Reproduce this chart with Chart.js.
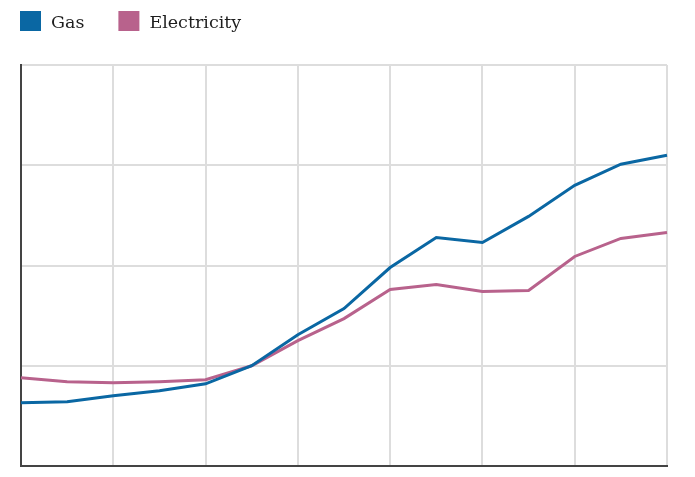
<!DOCTYPE html>
<html><head><meta charset="utf-8">
<script src="https://cdn.jsdelivr.net/npm/chart.js@4.4.1/dist/chart.umd.min.js"></script>
<style>html,body{margin:0;padding:0;background:#fff}#wrap{width:695px;height:477px}</style>
</head><body><div id="wrap"><canvas id="c"></canvas></div>
<script>
const categories = ['2005','2006','2007','2008','2009','2010','2011','2012','2013','2014','2015','2016','2017','2018','2019'];
const gasValues = [92.6, 92.8, 94.0, 95.0, 96.4, 100.0, 106.2, 111.4, 119.6, 125.6, 124.6, 129.8, 136.0, 140.2, 142.0];
const electricityValues = [97.6, 96.8, 96.6, 96.8, 97.2, 100.0, 105.0, 109.4, 115.2, 116.2, 114.8, 115.0, 121.8, 125.4, 126.6];
const yTicks = [80, 100, 120, 140, 160];

const legendPlugin = {
  id: 'topLegend',
  afterDraw(chart) {
    const ctx = chart.ctx;
    ctx.save();
    ctx.font = '17.5px "DejaVu Serif"';
    ctx.textBaseline = 'alphabetic';
    let x = 20;
    chart.data.datasets.forEach(ds => {
      ctx.fillStyle = ds.borderColor;
      ctx.fillRect(x, 11, 21, 20);
      ctx.fillStyle = '#1e1e1e';
      ctx.fillText(ds.label, x + 31, 28);
      x += 31 + ctx.measureText(ds.label).width + 34;
    });
    ctx.restore();
  }
};

new Chart(document.getElementById('c'), {
  type: 'line',
  data: {
    labels: categories,
    datasets: [
      {label: 'Gas', data: gasValues, borderColor: '#0a67a3', backgroundColor: '#0a67a3', borderWidth: 3, pointRadius: 0, tension: 0},
      {label: 'Electricity', data: electricityValues, borderColor: '#b8628c', backgroundColor: '#b8628c', borderWidth: 3, pointRadius: 0, tension: 0}
    ]
  },
  plugins: [legendPlugin],
  options: {
    responsive: true, maintainAspectRatio: false, animation: false,
    layout: {padding: {left: 21, right: 28, bottom: 11, top: 65}},
    plugins: {
      legend: {display: false},
      tooltip: {enabled: false}
    },
    scales: {
      x: {
        offset: false,
        ticks: {display: false},
        grid: {color: ctx => (ctx.index % 2 === 0 ? '#dddddd' : 'rgba(0,0,0,0)'), lineWidth: 2, drawTicks: false},
        border: {color: '#444', width: 2}
      },
      y: {
        min: yTicks[0], max: yTicks[yTicks.length - 1],
        afterBuildTicks: s => { s.ticks = yTicks.map(v => ({value: v})); },
        ticks: {display: false},
        grid: {color: '#dddddd', lineWidth: 2, drawTicks: false},
        border: {color: '#444', width: 2}
      }
    }
  }
});
</script></body></html>
